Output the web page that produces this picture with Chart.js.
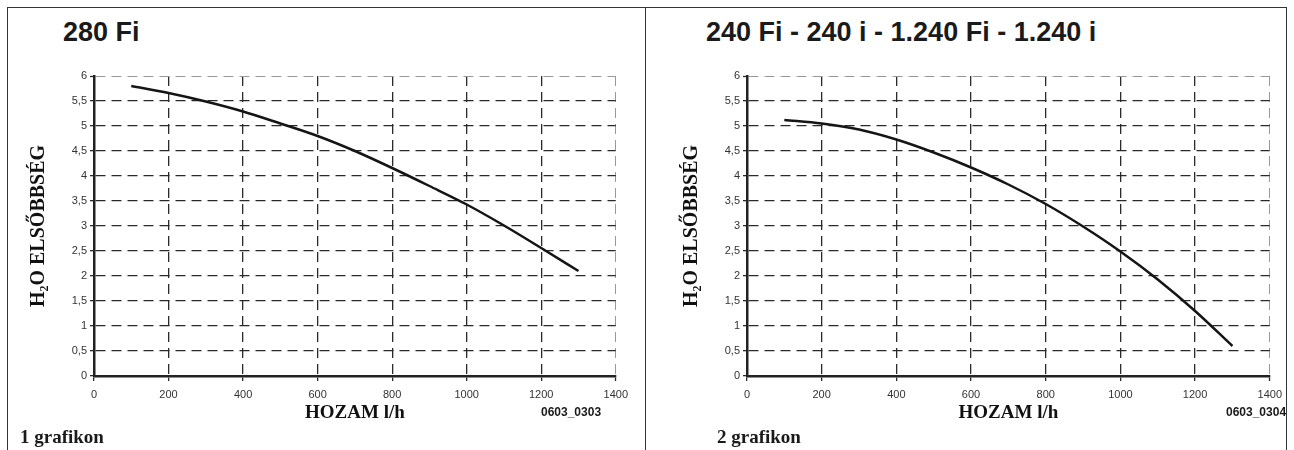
<!DOCTYPE html>
<html>
<head>
<meta charset="utf-8">
<script src="https://cdn.jsdelivr.net/npm/chart.js@4.4.0/dist/chart.umd.min.js"></script>
<style>
    body { margin: 0; background: #fff; width: 1294px; height: 450px; overflow: hidden; position: relative;
           font-family: "Liberation Sans", Arial, sans-serif; color: #1a1a1a; }
    .frame { position: absolute; left: 7px; top: 7px; width: 1278px; height: 470px; border: 1.5px solid #333; }
    .divider { position: absolute; left: 645px; top: 7px; height: 470px; border-left: 1.5px solid #333; }
    .title { position: absolute; font-weight: bold; font-size: 27px; line-height: 27px; white-space: nowrap; }
    .code { position: absolute; font-weight: bold; font-size: 12px; line-height: 12px; }
    .caption { position: absolute; font-family: "Liberation Serif", serif; font-weight: bold; font-size: 19px; line-height: 19px; }
    .box { position: absolute; top: 60px; height: 370px; }
</style>
</head>
<body>
<div class="frame"></div>
<div class="divider"></div>

<div class="title" style="left:63px; top:19px;">280 Fi</div>
<div class="title" style="left:706px; top:19px;">240 Fi - 240 i - 1.240 Fi - 1.240 i</div>

<div class="box" style="left:10px; width:625px;"><canvas id="chart280"></canvas></div>
<div class="box" style="left:663px; width:626px;"><canvas id="chart240"></canvas></div>

<div class="code" style="left:541px; top:406px;">0603_0303</div>
<div class="code" style="left:1226px; top:406px;">0603_0304</div>
<div class="caption" style="left:20px; top:427px;">1 grafikon</div>
<div class="caption" style="left:717px; top:427px;">2 grafikon</div>

<script>
// flow (l/h) and available head for each boiler
const flowTicks = [0, 200, 400, 600, 800, 1000, 1200, 1400];
const headTicks = [0, 0.5, 1, 1.5, 2, 2.5, 3, 3.5, 4, 4.5, 5, 5.5, 6];
const flow = [100, 200, 300, 400, 500, 600, 700, 800, 900, 1000, 1100, 1200, 1300];
const head280 = [5.8, 5.66, 5.49, 5.29, 5.05, 4.8, 4.5, 4.16, 3.8, 3.43, 3.01, 2.56, 2.1];
const head240 = [5.12, 5.05, 4.93, 4.73, 4.47, 4.17, 3.83, 3.44, 2.99, 2.49, 1.93, 1.3, 0.6];

function makeChart(id, values) {
    const ctx = document.getElementById(id).getContext('2d');
    const points = flow.map((f, i) => ({ x: f, y: values[i] }));
    const isEdge = (c, max) => c.tick && c.tick.value === max;

    return new Chart(ctx, {
        type: 'line',
        data: {
            datasets: [{
                data: points,
                borderColor: '#151515',
                borderWidth: 2.5,
                pointRadius: 0,
                cubicInterpolationMode: 'monotone',
                fill: false
            }]
        },
        options: {
            responsive: true,
            maintainAspectRatio: false,
            animation: false,
            layout: { padding: { top: 16, right: 18, bottom: 0, left: 0 } },
            plugins: { legend: { display: false }, tooltip: { enabled: false } },
            scales: {
                x: {
                    type: 'linear',
                    min: flowTicks[0],
                    max: flowTicks[flowTicks.length - 1],
                    afterBuildTicks: scale => { scale.ticks = flowTicks.map(v => ({ value: v })); },
                    afterFit: scale => { scale.height = 54; },
                    ticks: {
                        color: '#333',
                        padding: 7,
                        maxRotation: 0,
                        font: { family: 'Liberation Sans', size: 11 },
                        callback: value => String(value)
                    },
                    grid: {
                        color: c => isEdge(c, 1400) ? '#999' : '#2a2a2a',
                        lineWidth: c => isEdge(c, 1400) ? 1 : 1.3,
                        tickLength: 5,
                        tickColor: '#2a2a2a',
                        tickWidth: 1.3,
                        tickBorderDash: []
                    },
                    border: { display: true, color: '#222', width: 2.5, dash: [10, 6] },
                    title: {
                        display: true,
                        text: 'HOZAM l/h',
                        color: '#111',
                        padding: { top: 0, bottom: 6 },
                        font: { family: 'Liberation Serif', size: 19, weight: 'bold' }
                    }
                },
                y: {
                    min: headTicks[0],
                    max: headTicks[headTicks.length - 1],
                    afterBuildTicks: scale => { scale.ticks = headTicks.map(v => ({ value: v })); },
                    afterFit: scale => { scale.width = 84; },
                    ticks: {
                        color: '#333',
                        padding: 3,
                        font: { family: 'Liberation Sans', size: 11 },
                        callback: value => String(value).replace('.', ',')
                    },
                    grid: {
                        color: c => isEdge(c, 6) ? '#999' : '#2a2a2a',
                        lineWidth: c => isEdge(c, 6) ? 1 : 1.3,
                        tickLength: 4,
                        tickColor: '#2a2a2a',
                        tickWidth: 1.3,
                        tickBorderDash: []
                    },
                    border: { display: true, color: '#222', width: 2.5, dash: [10, 6] },
                    title: {
                        display: true,
                        text: 'H₂O ELSŐBBSÉG',
                        color: '#111',
                        padding: { top: 17, bottom: 0 },
                        font: { family: 'Liberation Serif', size: 20, weight: 'bold' }
                    }
                }
            }
        }
    });
}

makeChart('chart280', head280);
makeChart('chart240', head240);
</script>
</body>
</html>
